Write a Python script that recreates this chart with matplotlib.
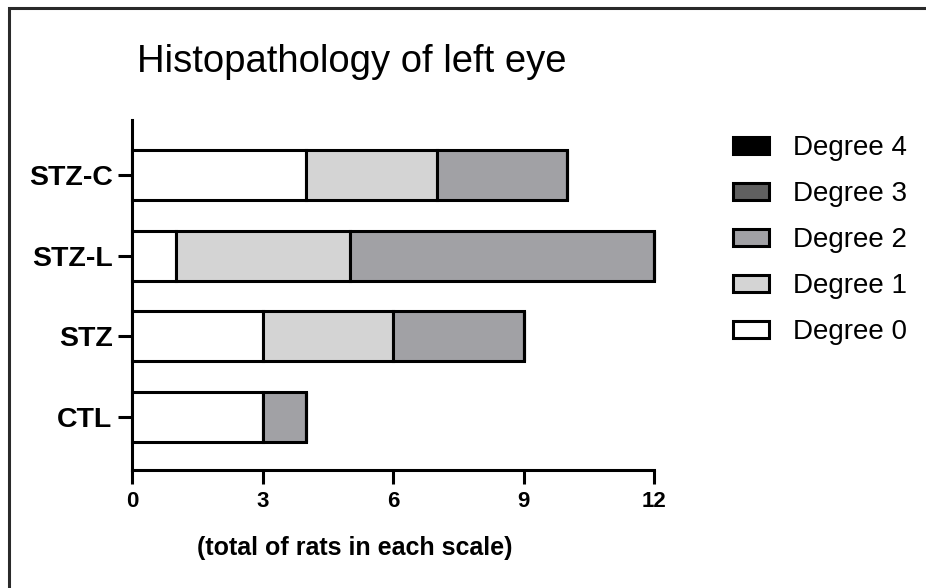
import matplotlib
matplotlib.use("Agg")
import matplotlib.pyplot as plt
from matplotlib.patches import Rectangle, Patch

plt.rcParams['font.family'] = ['Liberation Sans', 'DejaVu Sans']

groups = ["CTL", "STZ", "STZ-L", "STZ-C"]
degree_labels = ["Degree 0", "Degree 1", "Degree 2", "Degree 3", "Degree 4"]
degree0 = [3, 3, 1, 4]
degree1 = [0, 3, 4, 3]
degree2 = [1, 3, 7, 3]
degree3 = [0, 0, 0, 0]
degree4 = [0, 0, 0, 0]
series = [degree0, degree1, degree2, degree3, degree4]
colors = ["#ffffff", "#d4d4d4", "#a1a1a5", "#606060", "#000000"]
xticks = [0, 3, 6, 9, 12]

fig = plt.figure(figsize=(9.26, 5.88), dpi=100)
ax = fig.add_axes([132/926, 1-470/588, (654-132)/926, (470-120)/588])

lw = 2.2
left = [0]*len(groups)
ypos = list(range(len(groups)))
for vals, col in zip(series, colors):
    bars = ax.barh(ypos, vals, left=left, height=0.62, color=col,
                   edgecolor="black", linewidth=lw, zorder=3)
    for b in bars:
        b.set_clip_on(False)
    left = [l + v for l, v in zip(left, vals)]

ax.set_xlim(0, 12)
ax.set_ylim(-0.66, 3.685)
ax.set_xticks(xticks)
ax.set_xticklabels([str(t) for t in xticks], fontsize=16, fontweight='bold')
ax.set_yticks(ypos)
ax.set_yticklabels(groups, fontsize=20.5, fontweight='bold')
ax.tick_params(axis='both', length=10, width=lw, color='black')
ax.tick_params(axis='y', pad=4)
ax.tick_params(axis='x', pad=5)
for s in ['top', 'right']:
    ax.spines[s].set_visible(False)
for s in ['left', 'bottom']:
    ax.spines[s].set_linewidth(lw)
ax.set_xlabel("(total of rats in each scale)", fontsize=18, fontweight='bold')
ax.xaxis.set_label_coords((355-132)/(654-132), -(548-470)/350, transform=ax.transAxes)
ax.xaxis.label.set_va('center')

fig.text(137/926, 1-62/588, "Histopathology of left eye", fontsize=27.5,
         ha='left', va='center')

handles = [Patch(facecolor=c, edgecolor='black', linewidth=lw, label=l)
           for c, l in zip(colors, degree_labels)][::-1]
fig.legend(handles=handles, loc='upper left', bbox_to_anchor=(733/926, 1-135/588),
           frameon=False, fontsize=20, handlelength=1.3, handleheight=0.55,
           labelspacing=0.72, handletextpad=0.85, borderaxespad=0, borderpad=0)

# outer frame (top and left edges visible; cropped on right/bottom)
fig.patches.append(Rectangle((8.5/926, -0.1), 1.2, 1.1 - 8.5/588,
                             transform=fig.transFigure, fill=False,
                             edgecolor='#2a2a2a', linewidth=2.2))

fig.savefig("out.png", dpi=100)
